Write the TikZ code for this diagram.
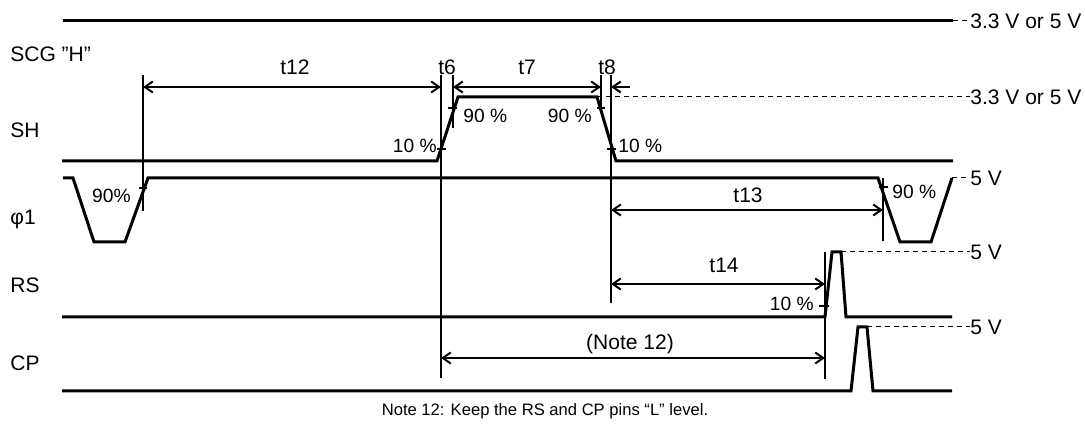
\documentclass[tikz,border=0pt]{standalone}
\usepackage{fontspec}
\setmainfont{Liberation Sans}
\usetikzlibrary{arrows.meta,positioning}

\begin{document}
\begin{tikzpicture}[x=0.5pt, y=-0.5pt,
sig/.style={line width=1.5pt},
dim/.style={line width=1pt, {Straight Barb[length=4pt,width=5.5pt]}-{Straight Barb[length=4pt,width=5.5pt]}},
half/.style={line width=1pt, -{Straight Barb[length=4pt,width=5.5pt]}},
guide/.style={line width=0.6pt},
lvl/.style={line width=0.5pt, dash pattern=on 2.5pt off 2pt},
lbl/.style={font=\fontsize{10.5}{12}\selectfont, inner sep=0pt},
pct/.style={font=\fontsize{9.6}{11}\selectfont, inner sep=0pt}]
\useasboundingbox (0,0) rectangle (1085,426);
\node [lbl, anchor=west] (scg) at (10,54) {SCG ”H”};
\node [lbl, anchor=west] (sh) at (10,130) {SH};
\node [lbl, anchor=west] (phi) at (10,219) {φ1};
\node [lbl, anchor=west] (rs) at (10,285) {RS};
\node [lbl, anchor=west] (cp) at (10,363) {CP};
\node [lbl, anchor=west] (v_scg) at (970,21) {3.3 V or 5 V};
\node [lbl, anchor=west] (v_sh) at (970,97) {3.3 V or 5 V};
\node [lbl, anchor=west] (v_phi) at (970,178) {5 V};
\node [lbl, anchor=west] (v_rs) at (970,252) {5 V};
\node [lbl, anchor=west] (v_cp) at (970,327) {5 V};
\draw [sig] (63,21) -- (953,21);
\draw [lvl] (953,21) -- (v_scg.west);
\draw [sig] (62,161) -- (437,161) -- (458,97) -- (597,97) -- (616,161) -- (953,161);
\draw [lvl] (597,97) -- (v_sh.west);
\draw [sig] (63,178) -- (73,178) -- (94,242) -- (125,242) -- (148,178) -- (878,178)
  -- (900,242) -- (931,242) -- (952,178);
\draw [lvl] (952,178) -- (v_phi.west);
\draw [sig] (62,317) -- (825,317) -- (832,252) -- (841,252) -- (846,317) -- (952,317);
\draw [lvl] (841,252) -- (v_rs.west);
\draw [sig] (62,391) -- (851,391) -- (858,327) -- (867,327) -- (873,391) -- (952,391);
\draw [lvl] (867,327) -- (v_cp.west);
\coordinate (g12) at (143,75);
\coordinate (g6a) at (441,75);
\coordinate (g6b) at (453,75);
\coordinate (g8a) at (601,75);
\coordinate (g8b) at (611,75);
\draw [guide] (g12) -- ++(0,136);
\draw [guide] (g6a) -- ++(0,303);
\draw [guide] (g6b) -- ++(0,53);
\draw [guide] (g8a) -- ++(0,33);
\draw [guide] (g8b) -- ++(0,228);
\draw [guide] (883,178) -- (883,241);
\draw [guide] (825,252) -- (825,379);
\draw [guide] (139,188) -- (147,188);
\draw [guide] (437,149) -- (446,149);
\draw [guide] (448,108) -- (457,108);
\draw [guide] (597,108) -- (605,108);
\draw [guide] (607,149) -- (616,149);
\draw [guide] (879,187) -- (888,187);
\draw [guide] (819,306) -- (829,306);
\node [pct, anchor=east] (p1) at (131,196) {90\%};
\node [pct, anchor=east] (p2) at (437,146) {10 \%};
\node [pct, anchor=west] (p3) at (463,116) {90 \%};
\node [pct, anchor=east] (p4) at (592,116) {90 \%};
\node [pct, anchor=west] (p5) at (618,146) {10 \%};
\node [pct, anchor=west] (p6) at (892,192) {90 \%};
\node [pct, anchor=east] (p7) at (814,304) {10 \%};
\draw [dim] (143,87) -- (441,87);
\draw [dim] (453,87) -- (601,87);
\draw [half] (630,87) -- (611,87);
\draw [dim] (611,210) -- (883,210);
\draw [dim] (611,284) -- (825,284);
\draw [dim] (441,358) -- (825,358);
\node [lbl] (t12) at (295,67) {t12};
\node [lbl] (t6) at (447,67) {t6};
\node [lbl] (t7) at (527,67) {t7};
\node [lbl] (t8) at (607,67) {t8};
\node [lbl] (t13) at (748,195) {t13};
\node [lbl] (t14) at (724,265) {t14};
\node [lbl] (n12) at (630,344) {(Note 12)};
\node [font=\fontsize{8.3}{10}\selectfont, inner sep=0pt] (note) at (545,411)
  {Note 12: Keep the RS and CP pins “L” level.};
\end{tikzpicture}
\end{document}
